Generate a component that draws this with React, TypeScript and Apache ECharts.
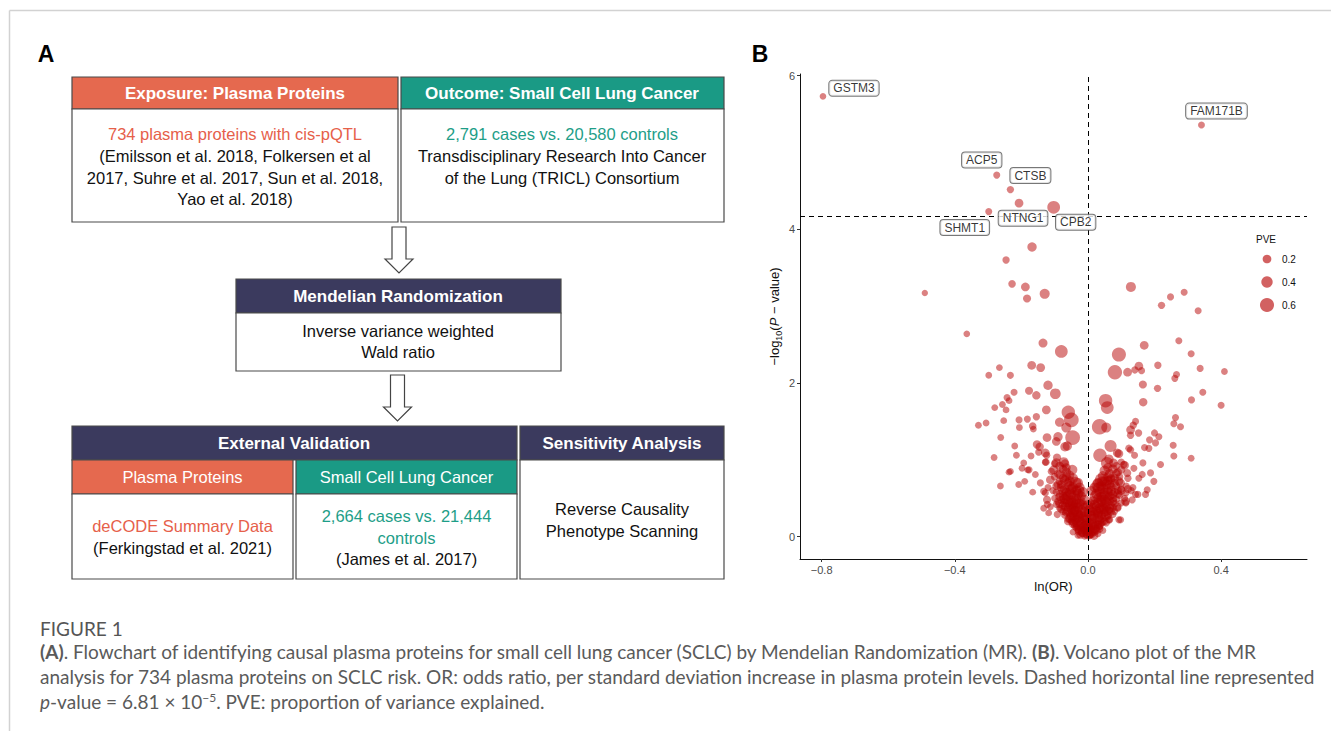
import React, { useEffect, useRef } from 'react';
import * as echarts from 'echarts';

// ---------------- Panel A: flowchart text ----------------
const exposureTitle = 'Exposure: Plasma Proteins';
const exposureHighlight = '734 plasma proteins with cis-pQTL';
const exposureLines = ['(Emilsson et al. 2018, Folkersen et al', '2017, Suhre et al. 2017, Sun et al. 2018,', 'Yao et al. 2018)'];
const outcomeTitle = 'Outcome: Small Cell Lung Cancer';
const outcomeHighlight = '2,791 cases vs. 20,580 controls';
const outcomeLines = ['Transdisciplinary Research Into Cancer', 'of the Lung (TRICL) Consortium'];
const mrTitle = 'Mendelian Randomization';
const mrLines = ['Inverse variance weighted', 'Wald ratio'];
const validationTitle = 'External Validation';
const sensitivityTitle = 'Sensitivity Analysis';
const proteinsSub = 'Plasma Proteins';
const proteinsHighlight = 'deCODE Summary Data';
const proteinsLines = ['(Ferkingstad et al. 2021)'];
const sclcSub = 'Small Cell Lung Cancer';
const sclcHighlight = ['2,664 cases vs. 21,444', 'controls'];
const sclcLines = ['(James et al. 2017)'];
const sensitivityLines = ['Reverse Causality', 'Phenotype Scanning'];

// ---------------- Panel B: volcano data [lnOR, -log10 P, PVE] ----------------
const thresholdP = 6.81e-5;
const xTicks = [-0.8, -0.4, 0, 0.4];
const yTicks = [0, 2, 4, 6];
const pveLegend = [0.2, 0.4, 0.6];

const labeledNames = ['GSTM3', 'FAM171B', 'ACP5', 'CTSB', 'NTNG1', 'SHMT1', 'CPB2'];
const labeledLnOR = [-0.796, 0.341, -0.274, -0.233, -0.207, -0.298, -0.103];
const labeledLogP = [5.73, 5.355, 4.705, 4.516, 4.34, 4.23, 4.286];
const labeledPVE = [0.05, 0.07, 0.08, 0.1, 0.2, 0.08, 0.5];

const upperPoints = [
  [-0.168, 3.77, 0.25], [-0.246, 3.6, 0.1], [-0.228, 3.29, 0.12], [-0.188, 3.25, 0.2],
  [-0.183, 3.1, 0.15], [-0.13, 3.16, 0.3], [-0.49, 3.17, 0.03], [0.129, 3.25, 0.3],
  [0.221, 3.01, 0.1], [0.248, 3.12, 0.08], [0.289, 3.18, 0.08], [0.331, 2.94, 0.08],
  [-0.364, 2.64, 0.05], [-0.135, 2.52, 0.22], [-0.08, 2.41, 0.5], [0.093, 2.37, 0.6],
  [0.169, 2.49, 0.2], [0.273, 2.55, 0.08], [0.31, 2.38, 0.08],
];

const rightWing = [
  [0.119, 2.14, 0.2], [0.141, 2.17, 0.1], [0.153, 2.22, 0.2], [0.161, 2.16, 0.08],
  [0.21, 2.23, 0.1], [0.165, 1.98, 0.15], [0.209, 1.93, 0.1], [0.266, 2.11, 0.08],
  [0.261, 2.06, 0.08], [0.337, 2.19, 0.08], [0.41, 2.15, 0.06], [0.345, 1.88, 0.08],
  [0.311, 1.78, 0.08], [0.4, 1.71, 0.08], [0.166, 1.75, 0.18], [0.263, 1.55, 0.08],
  [0.258, 1.47, 0.08], [0.278, 1.43, 0.08], [0.143, 1.5, 0.08], [0.136, 1.45, 0.1],
  [0.128, 1.39, 0.2], [0.152, 1.35, 0.1], [0.128, 1.32, 0.1], [0.2, 1.35, 0.08],
  [0.213, 1.3, 0.08], [0.185, 1.26, 0.08], [0.256, 1.19, 0.08], [0.258, 1.05, 0.08],
  [0.31, 1.02, 0.06], [0.123, 1.15, 0.1], [0.203, 1.22, 0.08], [0.183, 1.15, 0.08],
  [0.218, 0.94, 0.08], [0.17, 1.16, 0.08], [0.14, 1.06, 0.08], [0.165, 0.96, 0.08],
  [0.128, 1.13, 0.1], [0.138, 0.89, 0.08], [0.163, 0.81, 0.08], [0.188, 0.83, 0.08],
  [0.198, 0.72, 0.08], [0.178, 0.61, 0.08], [0.173, 0.55, 0.08], [0.153, 0.76, 0.08],
  [0.143, 0.55, 0.08], [0.133, 0.48, 0.08], [0.15, 0.55, 0.08], [0.114, 0.57, 0.08],
];

const centerRight = [
  [0.081, 2.14, 0.62], [0.053, 1.77, 0.55], [0.058, 1.68, 0.5], [0.035, 1.43, 0.7],
  [0.055, 1.42, 0.3], [0.068, 1.18, 0.45], [0.036, 1.06, 0.55], [0.088, 1.09, 0.2],
  [0.063, 1.01, 0.25], [0.093, 1.08, 0.2], [0.057, 0.96, 0.45], [0.077, 0.96, 0.2],
  [0.11, 0.93, 0.2], [0.108, 0.94, 0.1], [0.118, 0.83, 0.15], [0.093, 0.72, 0.2],
  [0.068, 0.74, 0.25], [0.043, 0.72, 0.3], [0.033, 0.63, 0.45], [0.023, 0.52, 0.45],
  [0.1, 0.6, 0.2], [0.12, 0.62, 0.15], [0.135, 0.64, 0.08], [0.113, 0.46, 0.2],
  [0.088, 0.39, 0.2], [0.068, 0.33, 0.2], [0.063, 0.22, 0.08], [0.093, 0.22, 0.08],
  [0.04, 0.74, 0.5], [0.03, 0.67, 0.5], [0.098, 0.7, 0.2], [0.098, 0.22, 0.08],
  [0.114, 0.44, 0.08],
];

const leftWing = [
  [-0.298, 2.1, 0.06], [-0.266, 2.2, 0.06], [-0.233, 2.1, 0.08], [-0.169, 2.23, 0.2],
  [-0.142, 2.2, 0.2], [-0.222, 1.88, 0.08], [-0.243, 1.81, 0.08], [-0.237, 1.77, 0.06],
  [-0.177, 1.9, 0.15], [-0.155, 1.84, 0.18], [-0.12, 1.97, 0.25], [-0.098, 1.86, 0.35],
  [-0.28, 1.68, 0.06], [-0.257, 1.72, 0.06], [-0.246, 1.65, 0.06], [-0.125, 1.65, 0.2],
  [-0.329, 1.45, 0.06], [-0.306, 1.48, 0.06], [-0.253, 1.51, 0.06], [-0.207, 1.52, 0.08],
  [-0.182, 1.53, 0.08], [-0.155, 1.56, 0.1], [-0.206, 1.42, 0.06], [-0.166, 1.44, 0.12],
  [-0.164, 1.4, 0.06], [-0.123, 1.29, 0.2], [-0.262, 1.29, 0.06], [-0.22, 1.18, 0.06],
  [-0.153, 1.2, 0.18], [-0.145, 1.17, 0.18], [-0.095, 1.24, 0.2], [-0.215, 1.06, 0.06],
  [-0.148, 1.1, 0.08], [-0.128, 1.09, 0.2], [-0.128, 0.97, 0.08], [-0.171, 1.05, 0.06],
  [-0.193, 0.96, 0.06], [-0.198, 0.89, 0.06], [-0.181, 0.87, 0.06], [-0.233, 0.85, 0.06],
  [-0.282, 1.03, 0.06], [-0.237, 0.84, 0.06], [-0.158, 0.81, 0.06], [-0.208, 0.68, 0.06],
  [-0.19, 0.72, 0.06], [-0.166, 0.58, 0.06], [-0.143, 0.7, 0.08], [-0.133, 0.59, 0.08],
  [-0.263, 0.66, 0.06], [-0.124, 1.06, 0.1], [-0.126, 0.97, 0.1], [-0.177, 0.87, 0.08],
];

const centerLeft = [
  [-0.059, 1.62, 0.55], [-0.05, 1.52, 0.65], [-0.085, 1.49, 0.25], [-0.065, 1.42, 0.3],
  [-0.046, 1.29, 0.65], [-0.09, 1.3, 0.25], [-0.062, 1.18, 0.25], [-0.069, 1.17, 0.25],
  [-0.093, 1.03, 0.15], [-0.069, 0.95, 0.2], [-0.095, 0.96, 0.25], [-0.073, 0.97, 0.3],
  [-0.103, 0.87, 0.22], [-0.047, 0.87, 0.3], [-0.083, 0.81, 0.25], [-0.113, 0.74, 0.2],
  [-0.09, 0.68, 0.2], [-0.038, 0.7, 0.45], [-0.028, 0.59, 0.45], [-0.123, 0.48, 0.15],
  [-0.133, 0.37, 0.06], [-0.113, 0.39, 0.06], [-0.118, 0.31, 0.06], [-0.092, 0.29, 0.1],
  [-0.122, 0.42, 0.08], [-0.128, 0.57, 0.08],
];

const corePoints = [
  [-0.01, 0.01, 0.1], [0.005, 0.02, 0.15], [-0.004, 0.04, 0.2], [0.012, 0.03, 0.1],
  [-0.018, 0.05, 0.12], [0.02, 0.06, 0.1], [0.0, 0.07, 0.25], [-0.012, 0.08, 0.1],
  [0.008, 0.09, 0.15], [-0.03, 0.1, 0.1], [-0.02, 0.12, 0.2], [0.025, 0.11, 0.1],
  [0.035, 0.13, 0.08], [-0.04, 0.14, 0.1], [0.015, 0.15, 0.3], [-0.01, 0.16, 0.15],
  [0.04, 0.17, 0.1], [-0.035, 0.18, 0.2], [0.028, 0.19, 0.15], [-0.05, 0.2, 0.1],
  [0.05, 0.2, 0.12], [-0.025, 0.21, 0.25], [0.01, 0.12, 0.1], [-0.06, 0.23, 0.1],
  [-0.045, 0.25, 0.2], [-0.015, 0.24, 0.3], [0.02, 0.25, 0.2], [0.045, 0.24, 0.1],
  [0.06, 0.26, 0.08], [-0.07, 0.28, 0.08], [-0.055, 0.3, 0.15], [-0.03, 0.29, 0.3],
  [0.0, 0.3, 0.2], [0.03, 0.3, 0.25], [0.05, 0.31, 0.15], [0.075, 0.29, 0.08],
  [-0.075, 0.33, 0.1], [-0.04, 0.34, 0.25], [0.015, 0.33, 0.2], [0.04, 0.35, 0.3],
  [-0.02, 0.36, 0.2], [0.065, 0.34, 0.1], [0.08, 0.33, 0.08], [-0.085, 0.37, 0.08],
  [-0.06, 0.38, 0.2], [-0.045, 0.4, 0.3], [-0.01, 0.39, 0.15], [0.025, 0.4, 0.2],
  [0.055, 0.38, 0.25], [0.07, 0.41, 0.1], [0.09, 0.37, 0.08], [-0.095, 0.42, 0.08],
  [-0.07, 0.44, 0.2], [-0.035, 0.43, 0.35], [0.01, 0.44, 0.1], [0.04, 0.45, 0.3],
  [0.065, 0.47, 0.2], [0.1, 0.44, 0.08], [-0.08, 0.48, 0.15], [-0.05, 0.47, 0.3],
  [-0.02, 0.46, 0.2], [0.03, 0.5, 0.25], [0.085, 0.49, 0.12], [-0.1, 0.5, 0.08],
  [0.11, 0.5, 0.08], [-0.065, 0.52, 0.25], [-0.04, 0.53, 0.35], [0.05, 0.54, 0.3],
  [0.075, 0.55, 0.2], [-0.085, 0.56, 0.15], [-0.055, 0.58, 0.3], [0.06, 0.58, 0.25],
  [0.09, 0.6, 0.15], [-0.105, 0.6, 0.1], [-0.07, 0.62, 0.25], [-0.045, 0.64, 0.3],
  [0.045, 0.62, 0.35], [0.07, 0.65, 0.2], [0.115, 0.66, 0.08], [-0.095, 0.66, 0.15],
  [-0.06, 0.7, 0.2], [0.08, 0.7, 0.2], [0.055, 0.68, 0.3], [-0.12, 0.64, 0.08],
  [0.13, 0.6, 0.08], [-0.075, 0.76, 0.2], [-0.055, 0.8, 0.25], [0.06, 0.78, 0.25],
  [0.085, 0.82, 0.2], [-0.1, 0.78, 0.12], [0.12, 0.76, 0.1], [-0.065, 0.9, 0.2],
  [0.075, 0.88, 0.25], [0.1, 0.87, 0.15], [-0.085, 0.92, 0.2], [0.05, 0.86, 0.3],
  [-0.11, 0.85, 0.1], [-0.03, 0.02, 0.08], [0.03, 0.04, 0.08], [-0.045, 0.06, 0.06],
  [0.045, 0.08, 0.06],
];

const coreDense = [
  [-0.022, 0.03, 0.2], [0.018, 0.015, 0.2], [-0.006, 0.1, 0.3], [0.026, 0.08, 0.15],
  [-0.028, 0.07, 0.15], [0.006, 0.05, 0.3], [-0.015, 0.13, 0.25], [0.02, 0.14, 0.2],
  [0.0, 0.12, 0.3], [-0.035, 0.12, 0.12], [0.035, 0.1, 0.12], [-0.045, 0.17, 0.2],
  [-0.02, 0.18, 0.3], [0.005, 0.19, 0.25], [0.03, 0.16, 0.2], [0.055, 0.18, 0.1],
  [-0.06, 0.2, 0.15], [-0.035, 0.22, 0.3], [-0.005, 0.22, 0.3], [0.035, 0.22, 0.25],
  [0.065, 0.22, 0.1], [-0.05, 0.27, 0.25], [-0.02, 0.27, 0.3], [0.01, 0.27, 0.3],
  [0.04, 0.28, 0.25], [0.06, 0.28, 0.15], [-0.065, 0.32, 0.2], [-0.045, 0.31, 0.3],
  [-0.01, 0.32, 0.3], [0.025, 0.34, 0.3], [0.055, 0.33, 0.25], [-0.08, 0.36, 0.15],
  [-0.05, 0.36, 0.3], [-0.03, 0.38, 0.3], [0.005, 0.37, 0.2], [0.035, 0.37, 0.3],
  [0.075, 0.38, 0.15], [-0.075, 0.41, 0.2], [-0.055, 0.42, 0.3], [-0.015, 0.42, 0.2],
  [0.02, 0.42, 0.25], [0.05, 0.42, 0.3], [0.08, 0.43, 0.15], [-0.09, 0.46, 0.12],
  [-0.065, 0.48, 0.25], [-0.035, 0.49, 0.3], [0.015, 0.47, 0.2], [0.05, 0.48, 0.3],
  [0.075, 0.5, 0.2], [-0.075, 0.53, 0.2], [-0.05, 0.55, 0.3], [-0.02, 0.53, 0.25],
  [0.04, 0.52, 0.3], [0.065, 0.53, 0.25], [0.095, 0.54, 0.12], [-0.095, 0.58, 0.1],
  [-0.065, 0.58, 0.25], [-0.035, 0.6, 0.3], [0.035, 0.58, 0.3], [0.08, 0.58, 0.2],
  [0.1, 0.62, 0.1], [-0.08, 0.64, 0.2], [-0.055, 0.66, 0.3], [0.06, 0.62, 0.3],
  [0.085, 0.66, 0.15], [-0.085, 0.72, 0.15], [-0.07, 0.74, 0.25], [-0.045, 0.76, 0.3],
  [0.05, 0.72, 0.3], [0.07, 0.76, 0.2], [0.095, 0.78, 0.12], [-0.09, 0.82, 0.15],
  [-0.065, 0.84, 0.25], [0.065, 0.82, 0.25], [0.09, 0.84, 0.15], [-0.075, 0.88, 0.2],
  [0.06, 0.9, 0.25], [0.085, 0.92, 0.15], [-0.1, 0.95, 0.1], [0.1, 0.97, 0.1],
];

const coreInner = [
  [-0.015, 0.06, 0.3], [0.01, 0.07, 0.3], [0.022, 0.1, 0.25], [-0.025, 0.09, 0.25],
  [0.0, 0.03, 0.3], [-0.03, 0.15, 0.3], [-0.008, 0.14, 0.35], [0.012, 0.17, 0.3],
  [0.033, 0.15, 0.25], [-0.042, 0.19, 0.25], [0.042, 0.2, 0.25], [0.0, 0.18, 0.35],
  [-0.052, 0.24, 0.3], [-0.028, 0.25, 0.35], [-0.008, 0.26, 0.35], [0.012, 0.23, 0.3],
  [0.03, 0.26, 0.35], [0.052, 0.27, 0.25], [-0.04, 0.28, 0.3], [0.02, 0.29, 0.3],
  [-0.06, 0.34, 0.3], [-0.035, 0.33, 0.35], [-0.02, 0.31, 0.3], [0.005, 0.34, 0.35],
  [0.03, 0.32, 0.3], [0.048, 0.36, 0.3], [0.065, 0.37, 0.25], [-0.068, 0.39, 0.25],
  [-0.04, 0.37, 0.35], [0.015, 0.38, 0.3], [0.045, 0.39, 0.3], [-0.085, 0.43, 0.2],
  [-0.06, 0.45, 0.3], [-0.045, 0.44, 0.3], [-0.025, 0.43, 0.3], [0.0, 0.41, 0.3],
  [0.03, 0.44, 0.3], [0.055, 0.45, 0.3], [0.075, 0.46, 0.2], [-0.07, 0.49, 0.3],
  [-0.04, 0.46, 0.35], [-0.01, 0.48, 0.3], [0.04, 0.48, 0.3], [0.06, 0.5, 0.3],
  [-0.085, 0.52, 0.2], [-0.06, 0.54, 0.3], [-0.03, 0.56, 0.3], [-0.015, 0.58, 0.3],
  [0.01, 0.6, 0.25], [0.025, 0.56, 0.3], [0.05, 0.57, 0.3], [0.07, 0.6, 0.25],
  [0.09, 0.56, 0.2], [-0.075, 0.6, 0.25], [-0.05, 0.62, 0.3], [-0.025, 0.64, 0.3],
  [0.02, 0.64, 0.3], [0.04, 0.66, 0.3], [0.065, 0.68, 0.25], [-0.08, 0.68, 0.2],
  [-0.055, 0.72, 0.3], [-0.03, 0.7, 0.3], [0.03, 0.7, 0.3], [0.06, 0.73, 0.25],
  [0.08, 0.76, 0.2], [-0.065, 0.78, 0.25], [0.045, 0.79, 0.3],
];

// ---------------- layout / style constants ----------------
const FONT = '"Liberation Sans", Arial, Helvetica, sans-serif';
const ORANGE = '#E5694F';
const TEAL = '#1A9A85';
const NAVY = '#3B3A5E';
const RED_TEXT = '#E6604A';
const TEAL_TEXT = '#1E9E88';
const BORDER = '#4a4a4a';
const POINT = 'rgba(182, 0, 0, 0.62)';
const X_MIN = -0.865;
const X_MAX = 0.658;
const Y_MIN = -0.29;
const Y_MAX = 6.02;
const GRID = { left: 800, top: 74, width: 507, height: 485 };
const labelNudges = [[31, -8], [15, -14], [-15, -15], [20, -14], [4, 15], [-24, 16], [22, 15]];

const pveToSize = (p: number) => 6 + 13.5 * p;

function rect(x: number, y: number, w: number, h: number, fill: string) {
  return { type: 'rect', shape: { x, y, width: w, height: h }, style: { fill, stroke: BORDER, lineWidth: 1.2 } };
}
function text(x: number, y: number, t: string, color: string, size: number, bold = false) {
  return {
    type: 'text', x, y,
    style: {
      text: t, fill: color, font: `${bold ? 'bold ' : ''}${size}px ${FONT}`,
      textAlign: 'center', textVerticalAlign: 'middle',
    },
  };
}
function arrow(cx: number, top: number, headY: number, tip: number) {
  return {
    type: 'polygon',
    shape: { points: [[cx - 7, top], [cx + 7, top], [cx + 7, headY], [cx + 14, headY], [cx, tip], [cx - 14, headY], [cx - 7, headY]] },
    style: { fill: '#fff', stroke: '#444', lineWidth: 1.2 },
  };
}

function buildGraphics() {
  const g: any[] = [];
  // frame
  g.push({ type: 'line', shape: { x1: 9.5, y1: 10.5, x2: 1331, y2: 10.5 }, style: { stroke: '#d2d2d2', lineWidth: 1.5 } });
  g.push({ type: 'line', shape: { x1: 9.5, y1: 10.5, x2: 9.5, y2: 731 }, style: { stroke: '#d2d2d2', lineWidth: 1.5 } });
  // panel letters
  g.push(text(46, 54, 'A', '#000', 23, true));
  g.push(text(760, 54, 'B', '#000', 23, true));
  const BODY = 16.5;
  const HEAD = 17;
  // top boxes
  g.push(rect(72, 77, 326, 32, ORANGE));
  g.push(rect(72, 109, 326, 113, '#fff'));
  g.push(text(235, 93, exposureTitle, '#fff', HEAD, true));
  g.push(text(235, 134, exposureHighlight, RED_TEXT, BODY));
  exposureLines.forEach((l, i) => g.push(text(235, 156 + i * 21.5, l, '#111', BODY)));
  g.push(rect(401, 77, 323, 32, TEAL));
  g.push(rect(401, 109, 323, 113, '#fff'));
  g.push(text(562, 93, outcomeTitle, '#fff', HEAD, true));
  g.push(text(562, 134, outcomeHighlight, TEAL_TEXT, BODY));
  outcomeLines.forEach((l, i) => g.push(text(562, 156 + i * 21.5, l, '#111', BODY)));
  // arrows
  g.push(arrow(399, 227, 259, 273));
  g.push(arrow(397.5, 375, 407, 421));
  // MR box
  g.push(rect(236, 279, 325, 34, NAVY));
  g.push(rect(236, 313, 325, 58, '#fff'));
  g.push(text(398, 296, mrTitle, '#fff', HEAD, true));
  mrLines.forEach((l, i) => g.push(text(398, 331 + i * 21, l, '#111', BODY)));
  // bottom row
  g.push(rect(72, 426, 445, 34, NAVY));
  g.push(text(294, 443, validationTitle, '#fff', HEAD, true));
  g.push(rect(520, 426, 204, 34, NAVY));
  g.push(text(622, 443, sensitivityTitle, '#fff', HEAD, true));
  g.push(rect(72, 460, 221, 34, ORANGE));
  g.push(text(182.5, 477, proteinsSub, '#fff', BODY));
  g.push(rect(296, 460, 221, 34, TEAL));
  g.push(text(406.5, 477, sclcSub, '#fff', BODY));
  g.push(rect(72, 494, 221, 85, '#fff'));
  g.push(text(182.5, 526, proteinsHighlight, RED_TEXT, BODY));
  proteinsLines.forEach((l, i) => g.push(text(182.5, 548 + i * 21, l, '#111', BODY)));
  g.push(rect(296, 494, 221, 85, '#fff'));
  sclcHighlight.forEach((l, i) => g.push(text(406.5, 516 + i * 21.5, l, TEAL_TEXT, BODY)));
  sclcLines.forEach((l, i) => g.push(text(406.5, 559 + i * 21, l, '#111', BODY)));
  g.push(rect(520, 460, 204, 119, '#fff'));
  sensitivityLines.forEach((l, i) => g.push(text(622, 509 + i * 21.5, l, '#111', BODY)));
  // PVE legend
  g.push({ type: 'text', x: 1256, y: 239, style: { text: 'PVE', fill: '#111', font: `10px ${FONT}`, textAlign: 'left', textVerticalAlign: 'middle' } });
  pveLegend.forEach((p, i) => {
    const cy = 259 + i * 23;
    g.push({ type: 'circle', shape: { cx: 1267, cy, r: pveToSize(p) / 2 }, style: { fill: POINT } });
    g.push({ type: 'text', x: 1282, y: cy, style: { text: p.toFixed(1), fill: '#111', font: `10px ${FONT}`, textAlign: 'left', textVerticalAlign: 'middle' } });
  });
  return g;
}

export default function App() {
  const ref = useRef<HTMLDivElement>(null);
  useEffect(() => {
    if (!ref.current) return;
    const chart = echarts.init(ref.current, undefined, { renderer: 'svg' });
    const points = [
      ...upperPoints, ...rightWing, ...centerRight, ...leftWing, ...centerLeft,
      ...corePoints, ...coreDense, ...coreInner,
    ];
    const labeled = labeledNames.map((n, i) => ({
      name: n,
      value: [labeledLnOR[i], labeledLogP[i], labeledPVE[i]],
      label: { offset: labelNudges[i] },
    }));
    const threshold = -Math.log10(thresholdP);
    const fmtX = (v: number) => (v === 0 ? '0.0' : v.toFixed(1)).replace('-', '\u2212');
    chart.setOption({
      animation: false,
      textStyle: { fontFamily: FONT },
      graphic: { elements: buildGraphics() },
      grid: { ...GRID },
      xAxis: {
        type: 'value', min: X_MIN, max: X_MAX,
        name: 'ln(OR)', nameLocation: 'middle', nameGap: 19,
        nameTextStyle: { fontSize: 13, color: '#111', fontFamily: FONT },
        axisLine: { show: true, onZero: false, lineStyle: { color: '#111', width: 1 } },
        axisTick: { show: true, length: 3, lineStyle: { color: '#333' }, customValues: xTicks },
        axisLabel: { color: '#4d4d4d', fontSize: 11, margin: 5, customValues: xTicks, formatter: fmtX },
        splitLine: { show: false },
      },
      yAxis: {
        type: 'value', min: Y_MIN, max: Y_MAX,
        name: '{t|\u2212log}{s|10}{t|(}{i|P}{t| \u2212 value)}',
        nameLocation: 'middle', nameGap: 17, nameRotate: 90,
        nameTextStyle: {
          fontSize: 13, color: '#111', fontFamily: FONT,
          rich: {
            t: { fontSize: 13, lineHeight: 18, color: '#111', fontFamily: FONT },
            i: { fontSize: 13, lineHeight: 18, fontStyle: 'italic', color: '#111', fontFamily: FONT },
            s: { fontSize: 9, lineHeight: 9, verticalAlign: 'bottom', color: '#111', fontFamily: FONT },
          },
        },
        axisLine: { show: true, onZero: false, lineStyle: { color: '#111', width: 1 } },
        axisTick: { show: true, length: 3, lineStyle: { color: '#333' }, customValues: yTicks },
        axisLabel: { color: '#4d4d4d', fontSize: 11, margin: 5, customValues: yTicks, formatter: (v: number) => String(v) },
        splitLine: { show: false },
      },
      series: [
        {
          type: 'scatter',
          data: points,
          symbolSize: (v: number[]) => pveToSize(v[2]),
          itemStyle: { color: POINT },
          z: 2,
          markLine: {
            silent: true, symbol: 'none', animation: false,
            label: { show: false },
            lineStyle: { type: [5, 4], color: '#000', width: 1 },
            data: [{ yAxis: threshold }, { xAxis: 0 }],
          },
        },
        {
          type: 'scatter',
          data: labeled,
          symbolSize: (v: number[]) => pveToSize(v[2]),
          itemStyle: { color: POINT },
          label: {
            show: true, position: 'inside', formatter: '{b}',
            color: '#000', fontSize: 12, fontFamily: FONT,
            backgroundColor: '#fff', borderColor: '#555', borderWidth: 1, borderRadius: 3,
            padding: [2, 4, 1, 4],
          },
          z: 10,
        },
      ],
    });
    return () => chart.dispose();
  }, []);

  const cap: React.CSSProperties = {
    position: 'absolute', left: 40, whiteSpace: 'nowrap', fontFamily: 'Lato, "Noto Sans", sans-serif',
    fontSize: 19, color: '#5a5a5a', lineHeight: '24px',
  };
  return (
    <div style={{ position: 'fixed', left: 0, top: 0, width: 1331, height: 731, background: '#fff', overflow: 'hidden' }}>
      <div ref={ref} style={{ position: 'absolute', left: 0, top: 0, width: 1331, height: 731 }} />
      <div style={{ ...cap, top: 617, fontSize: 19, color: '#555' }}>FIGURE 1</div>
      <div style={{ ...cap, top: 640 }}>
        <b>(A)</b>. Flowchart of identifying causal plasma proteins for small cell lung cancer (SCLC) by Mendelian Randomization (MR). <b>(B)</b>. Volcano plot of the MR
      </div>
      <div style={{ ...cap, top: 665 }}>
        analysis for 734 plasma proteins on SCLC risk. OR: odds ratio, per standard deviation increase in plasma protein levels. Dashed horizontal line represented
      </div>
      <div style={{ ...cap, top: 690 }}>
        <i>p</i>-value = 6.81 × 10<sup style={{ fontSize: 12, lineHeight: 0 }}>−5</sup>. PVE: proportion of variance explained.
      </div>
    </div>
  );
}
